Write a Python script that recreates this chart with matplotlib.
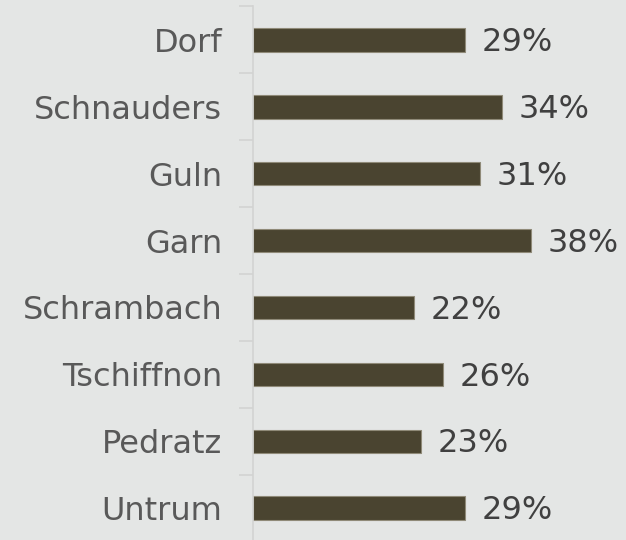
import matplotlib.pyplot as plt
import numpy as np

towns = ['Dorf', 'Schnauders', 'Guln', 'Garn', 'Schrambach', 'Tschiffnon', 'Pedratz', 'Untrum']
share = [29, 34, 31, 38, 22, 26, 23, 29]

bg = '#e4e6e5'
fig = plt.figure(figsize=(6.26, 5.4), dpi=100, facecolor=bg)
ax = fig.add_axes([0.404, -0.003, 0.596, 0.991], facecolor=bg)

y = np.arange(len(towns))
ax.barh(y, share, height=0.35, color='#4a4430', edgecolor='#8f8a78', linewidth=0.8)

for yi, v in zip(y, share):
    ax.text(v + 2.3, yi + 0.04, f'{v}%', va='center', ha='left', fontsize=23, color='#404040')

ax.set_ylim(len(towns) - 0.5, -0.5)
ax.set_xlim(0, 51)
ax.set_yticks(y)
ax.set_yticklabels(towns, fontsize=23, color='#595959')
ax.tick_params(axis='y', which='major', length=0, pad=22)
ax.set_yticks(np.arange(-0.5, len(towns)), minor=True)
ax.tick_params(axis='y', which='minor', length=10, color='#d2d3d2', width=1.2)
ax.set_xticks([])
for s in ['top', 'right', 'bottom']:
    ax.spines[s].set_visible(False)
ax.spines['left'].set_color('#d2d3d2')
ax.spines['left'].set_linewidth(1.2)

fig.savefig('out.png', dpi=100, facecolor=bg)
